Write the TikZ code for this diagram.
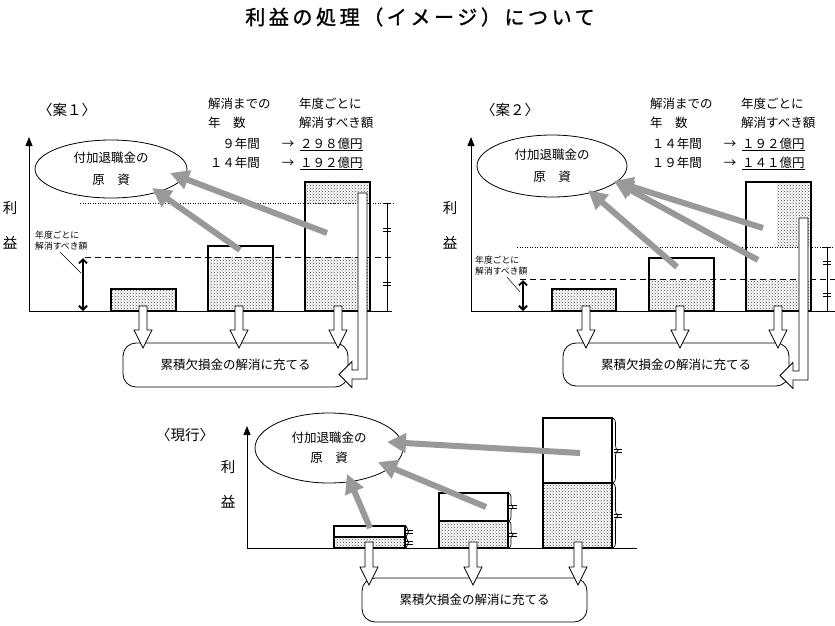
\documentclass[tikz,border=0pt]{standalone}
\usepackage{fontspec}
\setmainfont{Noto Sans CJK JP}
\usetikzlibrary{arrows.meta,patterns,shapes.geometric,decorations.pathreplacing}

\tikzset{
  bar/.style={draw, line width=2.2pt},
  dotarea/.style={pattern=crosshatch dots, pattern color=black!75},
  axis/.style={line width=0.9pt, -{Triangle[length=9pt,width=7pt]}},
  gen/.style={draw, ellipse, line width=0.8pt, inner sep=0pt, align=center},
  sumbox/.style={draw, rounded corners=13pt, line width=0.8pt, minimum width=225pt, minimum height=44pt},
  toGen/.style={draw=black!40, line width=6pt, -{Triangle[length=19pt,width=19pt]}},
  note/.style={inner sep=0pt},
  head/.style={inner sep=0pt, font=\fontsize{14.5}{17}\selectfont},
  small/.style={inner sep=0pt, anchor=base west, font=\fontsize{8.8}{10}\selectfont},
  yearly/.style={line width=1.8pt, {Straight Barb[length=4pt,width=8pt]}-{Straight Barb[length=4pt,width=8pt]}},
  levelA/.style={line width=0.9pt, dash pattern=on 6pt off 4pt},
  levelB/.style={line width=0.8pt, dash pattern=on 1pt off 1.5pt},
}

% white block arrow pointing down: x, top, tip
\newcommand{\blockdown}[3]{%
  \draw[line width=0.8pt, fill=white] (#1-4,#2) -- (#1+4,#2) -- (#1+4,#3-18)
    -- (#1+9,#3-18) -- (#1,#3) -- (#1-9,#3-18) -- (#1-4,#3-18) -- cycle;}
% white block arrow turning left: shaft x, top, bottom, tip x
\newcommand{\blockturn}[4]{%
  \draw[line width=0.8pt, fill=white] (#1,#2) -- (#1+9,#2) -- (#1+9,#3)
    -- (#4+13,#3) -- (#4+13,#3+8.5) -- (#4,#3-4.5) -- (#4+13,#3-17.5)
    -- (#4+13,#3-9) -- (#1,#3-9) -- cycle;}
% equal mark
\newcommand{\eqtick}[2]{%
  \draw[line width=0.7pt] ({#1-4},{#2-1.5}) -- ({#1+4},{#2-1.5})
    ({#1-4},{#2+1.5}) -- ({#1+4},{#2+1.5});}
% measure line: x, top, middle, bottom
\newcommand{\measure}[4]{%
  \draw[line width=0.7pt] (#1,#2) -- (#1,#4) (#1-4,#2) -- (#1+4,#2) (#1-4,#4) -- (#1+4,#4);
  \eqtick{#1}{(#2+#3)/2}
  \eqtick{#1}{(#3+#4)/2}}
% brace at the side of a bar: x, top, bottom, amplitude
\newcommand{\sidebrace}[4]{%
  \draw[line width=0.7pt, decorate, decoration={brace, amplitude=#4pt}] (#1,#2) -- (#1,#3);
  \eqtick{#1+#4}{(#2+#3)/2}}

\begin{document}
\begin{tikzpicture}[x=1pt, y=-1pt, font=\fontsize{12.5}{15}\selectfont]
\useasboundingbox (0,0) rectangle (835,625);
\def\yBase{311}
\def\yBaseC{548}

% Title
\node[inner sep=0pt, font=\fontsize{20}{24}\selectfont\addfontfeature{LetterSpace=18,FakeBold=1.2}]
  (title) at (420,17) {利益の処理（イメージ）について};

% ===== 案１ =====
\node[head] (planA) at (67,110) {〈案１〉};
\node[note, anchor=base west] (yrsA) at (208,108) {解消までの};
\node[note, anchor=base west] (yrsAb) at (208,127) {年　数};
\node[note, anchor=base west] (amtA) at (299,108) {年度ごとに};
\node[note, anchor=base west] (amtAb) at (299,127) {解消すべき額};
\node[note, anchor=base east] (rowA1) at (260,148) {９年間};
\node[note, anchor=base] (arrA1) at (288,148) {→};
\node[note, anchor=base west] (valA1) at (300,148) {\underline{２９８億円}};
\node[note, anchor=base east] (rowA2) at (260,167) {１４年間};
\node[note, anchor=base] (arrA2) at (288,167) {→};
\node[note, anchor=base west] (valA2) at (300,167) {\underline{１９２億円}};
\node[head] (riA) at (10,208) {利};
\node[head] (ekiA) at (10,243) {益};

% bars
\fill[dotarea] (111,289) rectangle (176,\yBase);
\fill[dotarea] (208,257) rectangle (273,\yBase);
\fill[dotarea] (305,182) rectangle (370,203);
\fill[dotarea] (305,257) rectangle (370,\yBase);
\draw[bar] (111,289) rectangle (176,\yBase);
\draw[bar] (208,246) rectangle (273,\yBase);
\draw[bar] (305,182) rectangle (370,\yBase);

% levels
\draw[levelB] (80,203) -- (395,203);
\draw[levelA] (85,257) -- (393,257);
\measure{387}{203}{257}{\yBase}
\draw[yearly] (83,258) -- (83,\yBase);
\node[small] (noteA) at (35,238) {年度ごとに};
\node[small] (noteAb) at (35,249) {解消すべき額};
\draw[line width=0.5pt] (60,252) -- (81,273);

% axes
\draw[axis] (29,\yBase) -- (29,137);
\draw[line width=0.9pt] (29,\yBase) -- (392,\yBase);

% ellipse and box
\node[gen, minimum width=152pt, minimum height=58pt] (genA) at (111,169) {付加退職金の\\[7pt]原　資};
\node[sumbox] (sumA) at (235.5,365) {累積欠損金の解消に充てる};

% arrows
\draw[toGen] (327,233) -- (170,173);
\draw[toGen] (240,250) -- (152,188);
\foreach \xx in {143,239,338} {\blockdown{\xx}{306}{348}}
\blockturn{358}{193}{379}{339}

% ===== 案２ =====
\node[head] (planB) at (510,110) {〈案２〉};
\node[note, anchor=base west] (yrsB) at (650,108) {解消までの};
\node[note, anchor=base west] (yrsBb) at (650,127) {年　数};
\node[note, anchor=base west] (amtB) at (741,108) {年度ごとに};
\node[note, anchor=base west] (amtBb) at (741,127) {解消すべき額};
\node[note, anchor=base east] (rowB1) at (702,148) {１４年間};
\node[note, anchor=base] (arrB1) at (730,148) {→};
\node[note, anchor=base west] (valB1) at (742,148) {\underline{１９２億円}};
\node[note, anchor=base east] (rowB2) at (702,167) {１９年間};
\node[note, anchor=base] (arrB2) at (730,167) {→};
\node[note, anchor=base west] (valB2) at (742,167) {\underline{１４１億円}};
\node[head] (riB) at (450,208) {利};
\node[head] (ekiB) at (450,243) {益};

% bars
\fill[dotarea] (552,289) rectangle (616,\yBase);
\fill[dotarea] (649,279) rectangle (714,\yBase);
\fill[dotarea] (777,182) rectangle (811,247);
\fill[dotarea] (746,279) rectangle (811,\yBase);
\draw[bar] (552,289) rectangle (616,\yBase);
\draw[bar] (649,258) rectangle (714,\yBase);
\draw[bar] (746,182) rectangle (811,\yBase);

% levels
\draw[levelB] (517,247) -- (835,247);
\draw[levelA] (520,279) -- (835,279);
\measure{827}{247}{279}{\yBase}
\draw[yearly] (523,280) -- (523,\yBase);
\node[small] (noteB) at (475,263) {年度ごとに};
\node[small] (noteBb) at (475,274) {解消すべき額};
\draw[line width=0.5pt] (507,277) -- (520,292);

% axes
\draw[axis] (471,\yBase) -- (471,137);
\draw[line width=0.9pt] (471,\yBase) -- (835,\yBase);

% ellipse and box
\node[gen, minimum width=150pt, minimum height=62pt] (genB) at (552,166) {付加退職金の\\[7pt]原　資};
\node[sumbox, minimum width=226pt, minimum height=43pt] (sumB) at (676,364.5) {累積欠損金の解消に充てる};

% arrows
\draw[toGen] (763,228) -- (614,181);
\draw[toGen] (758,260) -- (614,181);
\draw[toGen] (677,267) -- (588,190);
\foreach \xx in {586,680,778} {\blockdown{\xx}{306}{348}}
\blockturn{799}{218}{380}{780}

% ===== 現行 =====
\node[head] (planC) at (185,435) {〈現行〉};
\node[head] (riC) at (228,467) {利};
\node[head] (ekiC) at (228,502) {益};

% bars
\fill[dotarea] (334,537) rectangle (405,\yBaseC);
\fill[dotarea] (439,521) rectangle (508,\yBaseC);
\fill[dotarea] (543,483) rectangle (612,\yBaseC);
\draw[bar] (334,526) rectangle (405,\yBaseC) (334,537) -- (405,537);
\draw[bar] (439,493) rectangle (508,\yBaseC) (439,521) -- (508,521);
\draw[bar] (543,418) rectangle (612,\yBaseC) (543,483) -- (612,483);

% braces
\sidebrace{406}{526}{537}{2.5}
\sidebrace{406}{537}{548}{2.5}
\sidebrace{509}{493}{521}{4}
\sidebrace{509}{521}{548}{4}
\sidebrace{613}{418}{483}{5}
\sidebrace{613}{483}{548}{5}

% axes
\draw[axis] (247,\yBaseC) -- (247,426);
\draw[line width=0.9pt] (247,\yBaseC) -- (637,\yBaseC);

% ellipse and box
\node[gen, minimum width=148pt, minimum height=70pt] (genC) at (329,448) {付加退職金の\\[5pt]原　資};
\node[sumbox] (sumC) at (474.5,600) {累積欠損金の解消に充てる};

% arrows
\draw[toGen] (580,453) -- (387,442);
\draw[toGen] (486,507) -- (378,462);
\draw[toGen] (370,528) -- (347,474);
\foreach \xx in {369,473,578} {\blockdown{\xx}{542}{585}}

\end{tikzpicture}
\end{document}
